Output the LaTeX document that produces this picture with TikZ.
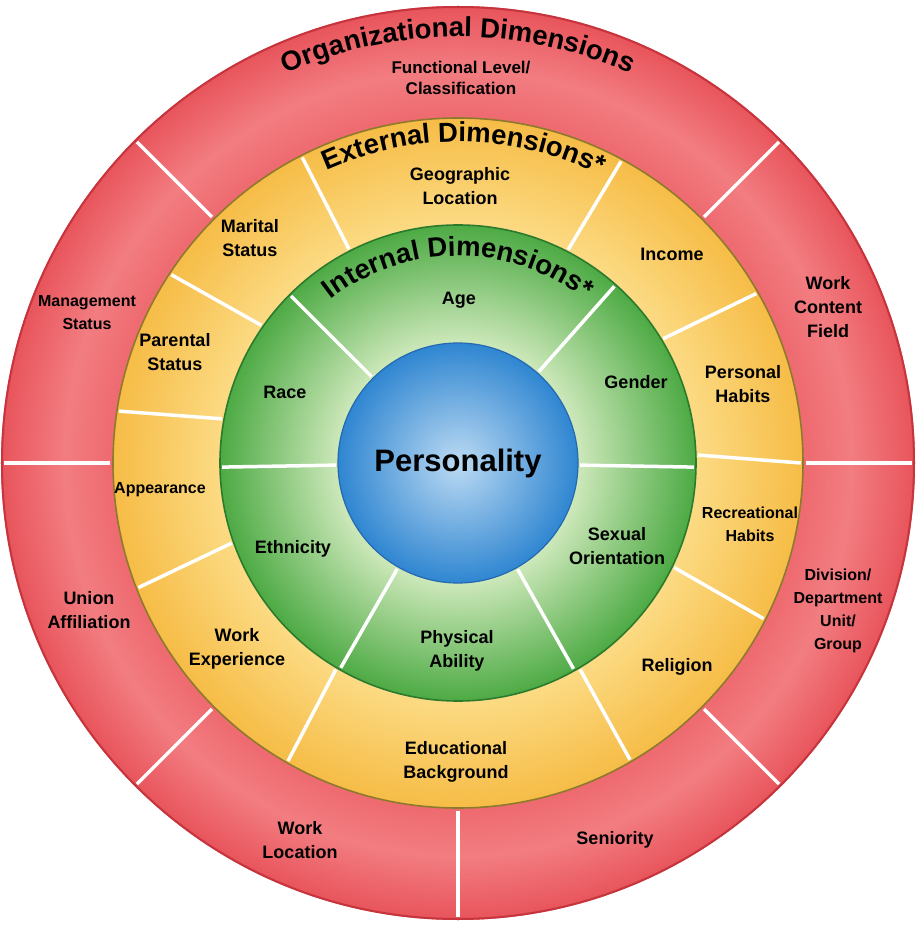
\documentclass[tikz,border=0pt]{standalone}
\usepackage{fontspec}
\setmainfont{Liberation Sans}
\usetikzlibrary{decorations.text}

\definecolor{orgin}{HTML}{EE6A6F}
\definecolor{orgmid}{HTML}{F27D81}
\definecolor{orgout}{HTML}{E8545B}
\definecolor{orgedge}{HTML}{C6343D}
\definecolor{extin}{HTML}{FCDB84}
\definecolor{extout}{HTML}{F6BC46}
\definecolor{extedge}{HTML}{8E7A2C}
\definecolor{intin}{HTML}{CDE8BA}
\definecolor{intout}{HTML}{4DAA44}
\definecolor{intedge}{HTML}{2B7A2E}
\definecolor{corein}{HTML}{BCDAF3}
\definecolor{coreout}{HTML}{2F86D1}
\definecolor{coreedge}{HTML}{2569B0}

\pgfdeclareradialshading{orgshade}{\pgfpoint{0bp}{0bp}}{color(0bp)=(orgin);color(18.9bp)=(orgin);color(21.5bp)=(orgmid);color(25bp)=(orgout);color(50bp)=(orgout)}
\pgfdeclareradialshading{extshade}{\pgfpoint{0bp}{0bp}}{color(0bp)=(extin);color(17.2bp)=(extin);color(25bp)=(extout);color(50bp)=(extout)}
\pgfdeclareradialshading{intshade}{\pgfpoint{0bp}{0bp}}{color(0bp)=(intin);color(12.6bp)=(intin);color(25bp)=(intout);color(50bp)=(intout)}
\pgfdeclareradialshading{coreshade}{\pgfpoint{0bp}{0bp}}{color(0bp)=(corein);color(25bp)=(coreout);color(50bp)=(coreout)}

\newcommand\dimfont{\fontsize{27.5}{30}\selectfont\bfseries}
\newcommand\labfont{\fontsize{18}{24}\selectfont\bfseries}
\newcommand\slabfont{\fontsize{16}{23}\selectfont\bfseries}
\newcommand\flfont{\fontsize{17}{21}\selectfont\bfseries}

\begin{document}
\begin{tikzpicture}[x=1pt,y=1pt,
  lab/.style={font=\labfont,align=center,inner sep=0pt},
  slab/.style={font=\slabfont,align=center,inner sep=0pt},
  divider/.style={draw=white,line width=3.5pt},
  arctitle/.style={decorate,decoration={text along path,text align=center,text={|\dimfont|#1}}}]
  \useasboundingbox (-458,-463) rectangle (460,463);
  % rings
  \shade[shading=orgshade] (0,0) circle (457);
  \draw[orgedge,line width=2pt] (0,0) circle (456);
  \shade[shading=extshade] (0,0) circle (345);
  \draw[extedge,line width=1.6pt] (0,0) circle (345);
  \shade[shading=intshade] (0,0) circle (238);
  \draw[intedge,line width=1.6pt] (0,0) circle (238);
  \shade[shading=coreshade] (0,0) circle (120);
  \draw[coreedge,line width=1.2pt] (0,0) circle (120);
  % sector dividers
  \foreach \a in {0,45,135,180,225,270,315}
    \draw[divider] (\a:348) -- (\a:454);
  \foreach \a/\b in {117/117,145/146.7,169.4/171.3,199.5/201.3,239.4/240.3,300.6/300.1,334.2/333,1.9/0,31.2/29.6,62.7/61.6}
    \draw[divider] (\a:240) -- (\b:343);
  \foreach \a in {-1,48.5,135,181,240.2,299.3}
    \draw[divider] (\a:122) -- (\a:236);
  % ring titles
  \path[arctitle={Organizational Dimensions}] (150:426) arc[start angle=150,end angle=30,radius=426];
  \path[arctitle={External Dimensions*}] (148:321) arc[start angle=148,end angle=30,radius=321];
  \path[arctitle={Internal Dimensions*}] (160:207) arc[start angle=160,end angle=20,radius=207];
  % organizational
  \node[lab,font=\flfont] (funclevel) at (3,385) {Functional Level/\\Classification};
  \node[slab] (mgmt) at (-371,150) {Management\\Status};
  \node[lab] (workcontent) at (370,156) {Work\\Content\\Field};
  \node[lab] (union) at (-369,-147) {Union\\Affiliation};
  \node[lab] (workloc) at (-158,-377) {Work\\Location};
  \node[lab] (seniority) at (157,-377) {Seniority};
  \node[slab] (division) at (380,-148) {Division/\\Department\\Unit/\\Group};
  % external
  \node[lab] (geo) at (2,277) {Geographic\\Location};
  \node[lab] (marital) at (-208,225) {Marital\\Status};
  \node[lab] (parental) at (-283,111) {Parental\\Status};
  \node[slab] (appearance) at (-298,-27) {Appearance};
  \node[lab] (workexp) at (-221,-186) {Work\\Experience};
  \node[lab] (edu) at (-2,-299) {Educational\\Background};
  \node[lab] (religion) at (219,-204) {Religion};
  \node[slab] (recreational) at (292,-61) {Recreational\\Habits};
  \node[lab] (personal) at (285,79) {Personal\\Habits};
  \node[lab] (income) at (214,209) {Income};
  % internal
  \node[lab] (age) at (1,163) {Age};
  \node[lab] (gender) at (178,81) {Gender};
  \node[lab] (race) at (-173,71) {Race};
  \node[lab] (ethnicity) at (-165,-86) {Ethnicity};
  \node[lab] (physical) at (-1,-188) {Physical\\Ability};
  \node[lab] (sexual) at (159,-83) {Sexual\\Orientation};
  % core
  \node[font=\fontsize{31}{31}\selectfont\bfseries,anchor=base] (core) at (0,-9) {Personality};
\end{tikzpicture}
\end{document}
